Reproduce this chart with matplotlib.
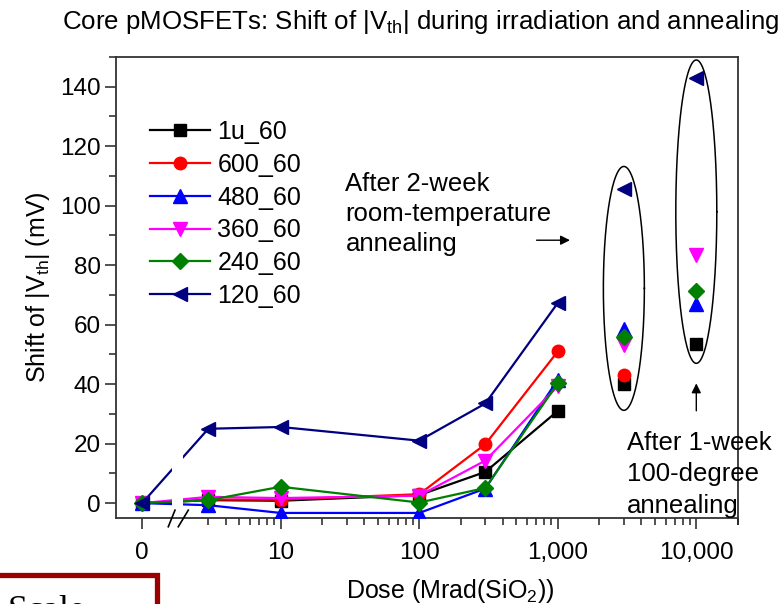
import numpy as np
import matplotlib
matplotlib.use("Agg")
import matplotlib.pyplot as plt
from matplotlib import font_manager as fm
from matplotlib.ticker import FixedLocator, FixedFormatter
from matplotlib.patches import Rectangle
import matplotlib.transforms as mtransforms

names = {f.name for f in fm.fontManager.ttflist}
BASE = 'Liberation Sans'
NARROW = 'Liberation Sans Narrow' if 'Liberation Sans Narrow' in names else BASE

plt.rcParams['font.family'] = [BASE, 'DejaVu Sans']
plt.rcParams['mathtext.fontset'] = 'custom'
plt.rcParams['mathtext.rm'] = BASE
plt.rcParams['mathtext.it'] = BASE + ':italic'

# ---------------- data ----------------
dose = [0, 3, 10, 100, 300, 1000]          # Mrad(SiO2), during irradiation
anneal_dose = [3000, 10000]                # plotted positions of annealing results
series_names = ['1u_60', '600_60', '480_60', '360_60', '240_60', '120_60']
v_1u = [0, 1.0, 0.8, 2.7, 10.5, 31.0]
v_600 = [0, 1.2, 1.2, 3.0, 19.8, 51.0]
v_480 = [0, -0.7, -3.3, -3.3, 4.9, 41.5]
v_360 = [0, 2.1, 1.7, 2.5, 14.3, 39.3]
v_240 = [0, 1.0, 5.5, 0.2, 5.1, 40.3]
v_120 = [0, 25.0, 25.6, 21.0, 33.5, 67.3]
a_1u = [40.0, 53.5]
a_600 = [43.0, np.nan]
a_480 = [58.5, 67.0]
a_360 = [53.0, 83.5]
a_240 = [55.8, 71.3]
a_120 = [105.5, 143.0]
xtick_vals = [0, 10, 100, 1000, 10000]
xtick_labels = ['0', '10', '100', '1,000', '10,000']

colors = ['black', '#ff0000', '#0000ff', '#ff00ff', '#008000', '#000080']
markers = ['s', 'o', '^', 'v', 'D', '<']
msizes = [8, 9, 9.5, 9.5, 8, 9.5]
irr = [v_1u, v_600, v_480, v_360, v_240, v_120]
ann = [a_1u, a_600, a_480, a_360, a_240, a_120]

ZERO_POS = 1.0  # position of "0" on the broken log axis
def xpos(d):
    return [ZERO_POS if v == 0 else v for v in d]

fig = plt.figure(figsize=(7.84, 6.04), dpi=100)
ax = fig.add_axes([116/784, 1-518/604, 622/784, 461/604])

for name, c, m, ms, yv, av in zip(series_names, colors, markers, msizes, irr, ann):
    ax.plot(xpos(dose), yv, color=c, marker=m, ms=ms, lw=1.6, label=name, zorder=3)
    ax.plot(anneal_dose, av, color=c, marker=m, ms=ms, lw=0, zorder=3)

ax.set_xscale('log')
ax.set_xlim(0.647, 20000)
ax.set_ylim(-5, 150)

# axis break gap in the lines
ax.add_patch(Rectangle((1.64, -4.6), 1.98-1.64, 35, facecolor='white', edgecolor='none', zorder=4))
trans = mtransforms.blended_transform_factory(ax.transData, ax.transAxes)
for x0, x1 in [(1.543, 1.725), (1.822, 2.152)]:
    ax.plot([x0, x1], [-0.019, 0.017], transform=trans, color='black', lw=1.2, clip_on=False, zorder=5)

ax.xaxis.set_major_locator(FixedLocator(xpos(xtick_vals)))
ax.xaxis.set_major_formatter(FixedFormatter(xtick_labels))
minor = [k * 10**e for e in range(0, 5) for k in range(2, 10) if not (e == 0 and k == 2)] + [20000]
ax.xaxis.set_minor_locator(FixedLocator(minor))
ax.xaxis.set_minor_formatter(FixedFormatter([''] * len(minor)))
ax.set_yticks(np.arange(0, 141, 20))
ax.set_yticks(np.arange(10, 151, 20), minor=True)

ax.tick_params(axis='both', which='major', length=8, width=1.1, labelsize=17.5, color='#222222')
ax.tick_params(axis='both', which='minor', length=5, width=1.1, color='#222222')
ax.tick_params(axis='x', which='major', pad=9)
ax.tick_params(axis='y', which='major', pad=3)
for sp in ax.spines.values():
    sp.set_linewidth(1.3)
    sp.set_color('#333333')

ax.set_ylabel('Shift of |V$_{\\mathrm{th}}$| (mV)', fontsize=18, labelpad=6)
ax.set_xlabel('Dose (Mrad(SiO$_2$))', fontsize=18)
ax.xaxis.set_label_coords((450-116)/622, -(577-518)/461)

leg = ax.legend(loc='upper left', bbox_to_anchor=((150-116)/622, 1-(120-57)/461), frameon=False,
                fontsize=18, handlelength=2.4, handletextpad=0.3, labelspacing=0.35, borderaxespad=0,
                borderpad=0)

# ellipses around annealing points
t = np.linspace(0, 2*np.pi, 300)
for xc, yc, hh in [(3000, 72.2, 41.0), (10000, 98.0, 51.0)]:
    ax.plot(xc * 10**(0.148*np.cos(t)), yc + hh*np.sin(t), color='black', lw=1.1, zorder=2)

# annotations
ax.text(29.3, 111.5, 'After 2-week\nroom-temperature\nannealing', fontsize=18.5, va='top', ha='left',
        linespacing=1.33)
ax.annotate('', xy=(1283, 88.4), xytext=(671, 88.4),
            arrowprops=dict(arrowstyle='-|>', color='black', lw=1, mutation_scale=14))
ax.annotate('', xy=(10000, 41.2), xytext=(10000, 30.1),
            arrowprops=dict(arrowstyle='-|>', color='black', lw=1, mutation_scale=14))
ax.text(3150, 24.3, 'After 1-week\n100-degree\nannealing', fontsize=18.5, va='top', ha='left',
        linespacing=1.4, clip_on=False)

fig.text(421/784, 1-22/604, 'Core pMOSFETs: Shift of |V$_{\\mathrm{th}}$| during irradiation and annealing',
         ha='center', va='center', fontsize=18.6, family=[NARROW, 'DejaVu Sans'])

# partially visible box at bottom-left
fig.patches.append(Rectangle((-10/784, -20/604), 167/784, (29+20)/604, transform=fig.transFigure,
                             fill=False, edgecolor='#9b0000', lw=3.8, figure=fig))
fig.text(8/784, -24/604, 'Scale', fontsize=26, family='Liberation Serif', ha='left', va='bottom')

fig.savefig('out.png', dpi=100)
